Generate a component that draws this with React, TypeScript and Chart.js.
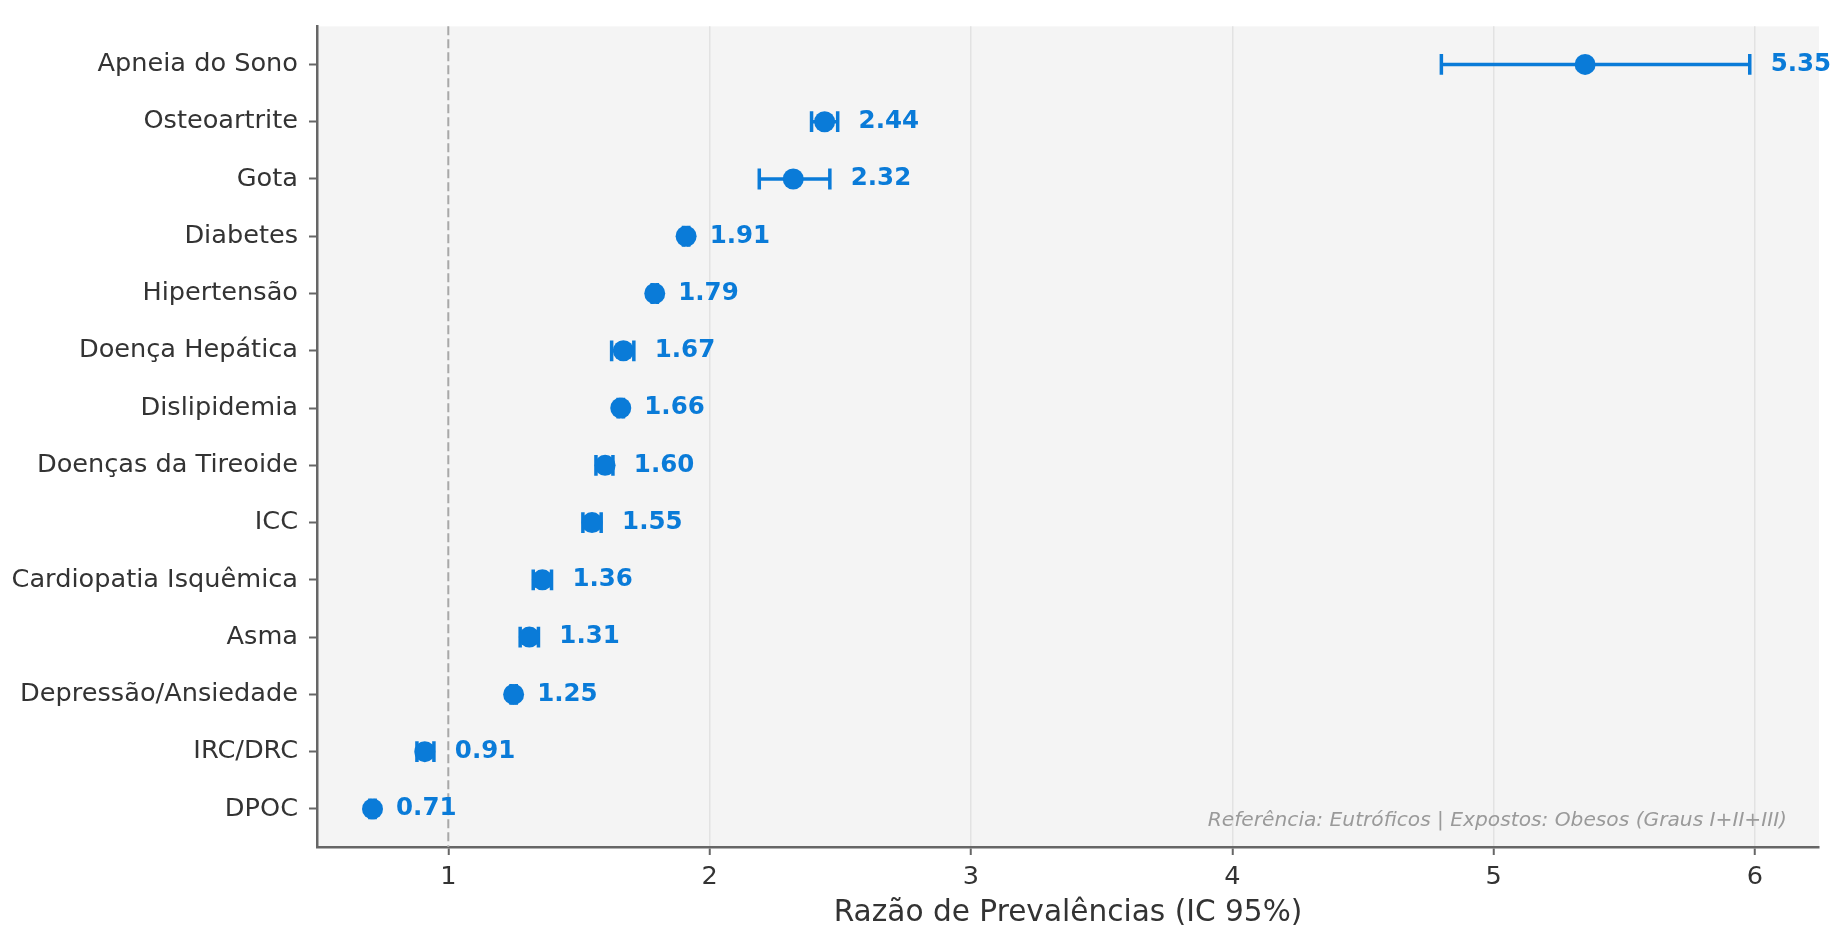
import React, { useEffect, useRef } from 'react';
import { Chart, registerables } from 'chart.js';

Chart.register(...registerables);

// Conditions, top to bottom
const categories = [
  'Apneia do Sono',
  'Osteoartrite',
  'Gota',
  'Diabetes',
  'Hipertensão',
  'Doença Hepática',
  'Dislipidemia',
  'Doenças da Tireoide',
  'ICC',
  'Cardiopatia Isquêmica',
  'Asma',
  'Depressão/Ansiedade',
  'IRC/DRC',
  'DPOC',
];

// Prevalence ratios with 95% confidence bounds
const ratios = [5.35, 2.44, 2.32, 1.91, 1.79, 1.67, 1.66, 1.6, 1.55, 1.36, 1.31, 1.25, 0.91, 0.71];
const ciLower = [4.8, 2.39, 2.19, 1.9, 1.78, 1.625, 1.65, 1.565, 1.515, 1.325, 1.275, 1.24, 0.88, 0.7];
const ciUpper = [5.98, 2.49, 2.46, 1.92, 1.8, 1.71, 1.67, 1.63, 1.585, 1.395, 1.345, 1.26, 0.945, 0.72];

const xTicks = [1, 2, 3, 4, 5, 6];
const referenceValue = 1;

const FONT = 'DejaVu Sans';
const BLUE = '#0a7bd8';
const AXIS = '#666666';
const TEXT = '#333333';

const forestPlugin = {
  id: 'forest',
  beforeDraw(chart: any) {
    const { ctx, chartArea } = chart;
    ctx.save();
    ctx.fillStyle = '#f4f4f4';
    ctx.fillRect(chartArea.left, chartArea.top, chartArea.right - chartArea.left, chartArea.bottom - chartArea.top);
    ctx.restore();
  },
  beforeDatasetsDraw(chart: any) {
    const { ctx, chartArea, scales } = chart;
    const xs = scales.x;
    const ys = scales.y;
    ctx.save();
    // null-effect reference line
    const rx = xs.getPixelForValue(referenceValue);
    ctx.strokeStyle = '#a8a8a8';
    ctx.lineWidth = 2;
    ctx.setLineDash([9, 4]);
    ctx.beginPath();
    ctx.moveTo(rx, chartArea.top);
    ctx.lineTo(rx, chartArea.bottom);
    ctx.stroke();
    ctx.setLineDash([]);

    // confidence interval bars with caps
    ctx.strokeStyle = BLUE;
    ctx.lineWidth = 3.5;
    const cap = 10.4;
    categories.forEach((_, i) => {
      const y = ys.getPixelForValue(i);
      const x0 = xs.getPixelForValue(ciLower[i]);
      const x1 = xs.getPixelForValue(ciUpper[i]);
      ctx.beginPath();
      ctx.moveTo(x0, y);
      ctx.lineTo(x1, y);
      ctx.moveTo(x0, y - cap);
      ctx.lineTo(x0, y + cap);
      ctx.moveTo(x1, y - cap);
      ctx.lineTo(x1, y + cap);
      ctx.stroke();
    });
    ctx.restore();
  },
  afterDatasetsDraw(chart: any) {
    const { ctx, chartArea, scales } = chart;
    const xs = scales.x;
    const ys = scales.y;
    ctx.save();
    ctx.fillStyle = BLUE;
    ctx.font = `bold 24.5px "${FONT}"`;
    ctx.textAlign = 'left';
    ctx.textBaseline = 'middle';
    categories.forEach((_, i) => {
      const y = ys.getPixelForValue(i);
      const x = xs.getPixelForValue(ciUpper[i] + 0.08);
      ctx.fillText(ratios[i].toFixed(2), x, y);
    });

    ctx.fillStyle = '#9a9a9a';
    ctx.font = `italic 20.2px "${FONT}"`;
    ctx.textAlign = 'right';
    ctx.textBaseline = 'alphabetic';
    ctx.fillText(
      'Referência: Eutróficos | Expostos: Obesos (Graus I+II+III)',
      chartArea.right - 32,
      chartArea.bottom - 21
    );
    ctx.restore();
  },
};

export default function App() {
  const canvasRef = useRef<HTMLCanvasElement | null>(null);

  useEffect(() => {
    if (!canvasRef.current) return;
    const chart = new Chart(canvasRef.current, {
      type: 'scatter',
      data: {
        datasets: [
          {
            data: ratios.map((v, i) => ({ x: v, y: i })),
            backgroundColor: BLUE,
            borderWidth: 0,
            pointRadius: 10.5,
            pointHoverRadius: 10.5,
          },
        ],
      },
      options: {
        animation: false,
        responsive: false,
        maintainAspectRatio: false,
        layout: { padding: { top: 23, right: 16, left: 0, bottom: 0 } },
        plugins: {
          legend: { display: false },
          tooltip: { enabled: false },
        },
        scales: {
          x: {
            type: 'linear',
            min: 0.4976,
            max: 6.245,
            afterBuildTicks: (s: any) => {
              s.ticks = xTicks.map((v) => ({ value: v }));
            },
            afterFit: (s: any) => {
              s.height = 83;
            },
            grid: {
              color: (c: any) => (c.tick && c.tick.value === referenceValue ? 'rgba(0,0,0,0)' : '#e2e2e2'),
              lineWidth: 1.5,
              tickColor: AXIS,
              tickLength: 8,
              tickWidth: 2,
            },
            border: { display: true, color: AXIS, width: 2.5 },
            ticks: {
              color: TEXT,
              font: { family: FONT, size: 25.6 },
              padding: 7,
              maxRotation: 0,
            },
            title: {
              display: true,
              text: 'Razão de Prevalências (IC 95%)',
              color: TEXT,
              font: { family: FONT, size: 29.6, lineHeight: 1.1 },
              padding: 0,
            },
          },
          y: {
            type: 'linear',
            reverse: true,
            min: -0.665,
            max: 13.665,
            afterBuildTicks: (s: any) => {
              s.ticks = categories.map((_, i) => ({ value: i }));
            },
            afterFit: (s: any) => {
              s.width = 317;
            },
            grid: {
              drawOnChartArea: false,
              tickColor: AXIS,
              tickLength: 8,
              tickWidth: 2,
            },
            border: { display: true, color: AXIS, width: 2.5 },
            ticks: {
              color: TEXT,
              font: { family: FONT, size: 25.6 },
              padding: 11,
              callback: (v: any) => categories[v as number] ?? '',
            },
          },
        },
      },
      plugins: [forestPlugin],
    } as any);
    return () => chart.destroy();
  }, []);

  return (
    <div style={{ position: 'fixed', left: 0, top: 0, width: 1835, height: 930, background: '#ffffff' }}>
      <canvas ref={canvasRef} width={1835} height={930} style={{ display: 'block' }} />
    </div>
  );
}
